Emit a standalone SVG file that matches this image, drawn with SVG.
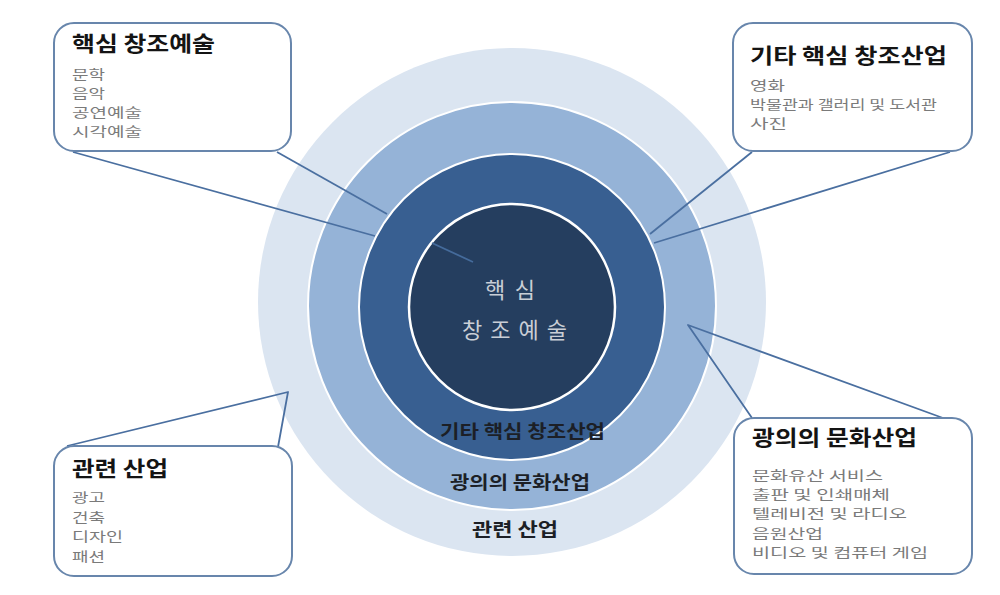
<svg xmlns="http://www.w3.org/2000/svg" width="1000" height="595" viewBox="0 0 1000 595">
<style>
text{font-family:"Noto Sans CJK KR","Noto Sans",sans-serif}
.box{fill:#fff;stroke:#6886ac;stroke-width:2}
.ttl{font-size:21px;font-weight:700;fill:#141414}
.itm{font-size:13px;fill:#7a7a7a}
.ring{font-size:18px;font-weight:700;fill:#1c1f26}
.ctr{font-size:22px;fill:#c9ced6}
.con{fill:none;stroke:#4a6fa0;stroke-width:1.8;stroke-linejoin:round}
</style>
<rect width="1000" height="595" fill="#fff"/>
<g id="rings">
<circle cx="512" cy="302" r="254" fill="#dbe5f1"/>
<circle cx="512" cy="306" r="204" fill="#95b3d7" stroke="#fff" stroke-width="2"/>
<circle cx="512" cy="307" r="153" fill="#385f91" stroke="#fff" stroke-width="2"/>
<circle cx="512" cy="307" r="103" fill="#253e5f" stroke="#fff" stroke-width="2.5"/>
</g>
<g id="connectors">
<polyline class="con" points="73,152 375,236"/>
<polyline class="con" points="277,152 387,214"/>
<polyline class="con" points="432,243 473,262" style="stroke:#456b9b"/>
<polyline class="con" points="752,152 650,234"/>
<polyline class="con" points="950,152 654,243"/>
<polyline class="con" points="67,446 288,392 278,447"/>
<polyline class="con" points="752,418 688,325 943,418"/>
</g>
<g id="center">
<text class="ctr" x="485" y="298" textLength="50" lengthAdjust="spacing">핵심</text>
<text class="ctr" x="462" y="338" textLength="105" lengthAdjust="spacing">창조예술</text>
</g>
<g id="ring-labels">
<text class="ring" x="440" y="438" textLength="165" lengthAdjust="spacingAndGlyphs">기타 핵심 창조산업</text>
<text class="ring" x="450" y="489" textLength="140" lengthAdjust="spacingAndGlyphs">광의의 문화산업</text>
<text class="ring" x="472" y="536" textLength="86" lengthAdjust="spacingAndGlyphs">관련 산업</text>
</g>
<g id="box-core-arts">
<rect class="box" x="54" y="23" width="237" height="128" rx="20"/>
<text class="ttl" x="72" y="51" textLength="143" lengthAdjust="spacingAndGlyphs">핵심 창조예술</text>
<text class="itm" x="72" y="79" textLength="33" lengthAdjust="spacingAndGlyphs">문학</text>
<text class="itm" x="72" y="98" textLength="33" lengthAdjust="spacingAndGlyphs">음악</text>
<text class="itm" x="72" y="117" textLength="70" lengthAdjust="spacingAndGlyphs">공연예술</text>
<text class="itm" x="72" y="136" textLength="70" lengthAdjust="spacingAndGlyphs">시각예술</text>
</g>
<g id="box-other-core">
<rect class="box" x="733" y="23" width="239" height="128" rx="20"/>
<text class="ttl" x="750" y="63" textLength="197" lengthAdjust="spacingAndGlyphs">기타 핵심 창조산업</text>
<text class="itm" x="750" y="90" textLength="35" lengthAdjust="spacingAndGlyphs">영화</text>
<text class="itm" x="750" y="109" textLength="187" lengthAdjust="spacingAndGlyphs">박물관과 갤러리 및 도서관</text>
<text class="itm" x="750" y="128" textLength="37" lengthAdjust="spacingAndGlyphs">사진</text>
</g>
<g id="box-related">
<rect class="box" x="54" y="446" width="238" height="130" rx="20"/>
<text class="ttl" x="72" y="476" textLength="96" lengthAdjust="spacingAndGlyphs">관련 산업</text>
<text class="itm" x="72" y="502" textLength="33" lengthAdjust="spacingAndGlyphs">광고</text>
<text class="itm" x="72" y="521.5" textLength="33" lengthAdjust="spacingAndGlyphs">건축</text>
<text class="itm" x="72" y="541" textLength="51" lengthAdjust="spacingAndGlyphs">디자인</text>
<text class="itm" x="72" y="560.5" textLength="33" lengthAdjust="spacingAndGlyphs">패션</text>
</g>
<g id="box-broad">
<rect class="box" x="734" y="418" width="238" height="156" rx="20"/>
<text class="ttl" x="752" y="445" textLength="165" lengthAdjust="spacingAndGlyphs">광의의 문화산업</text>
<text class="itm" x="752" y="480" textLength="131" lengthAdjust="spacingAndGlyphs">문화유산 서비스</text>
<text class="itm" x="752" y="499.2" textLength="138" lengthAdjust="spacingAndGlyphs">출판 및 인쇄매체</text>
<text class="itm" x="752" y="518.4" textLength="155" lengthAdjust="spacingAndGlyphs">텔레비전 및 라디오</text>
<text class="itm" x="752" y="537.6" textLength="71" lengthAdjust="spacingAndGlyphs">음원산업</text>
<text class="itm" x="752" y="556.8" textLength="176" lengthAdjust="spacingAndGlyphs">비디오 및 컴퓨터 게임</text>
</g>
</svg>
